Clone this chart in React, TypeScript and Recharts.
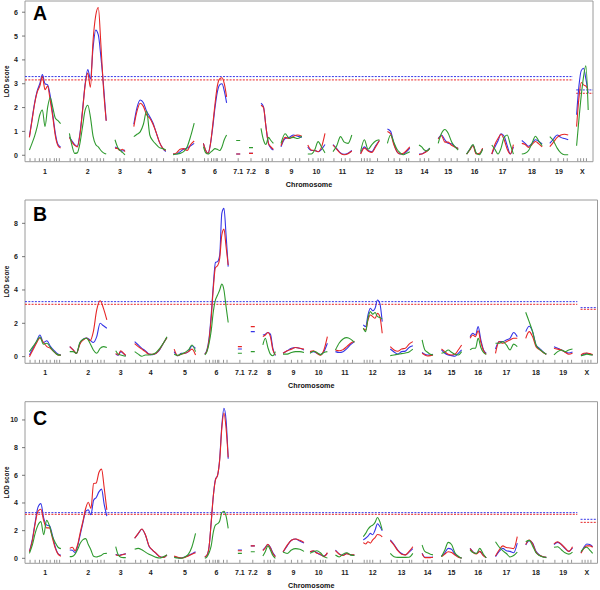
import React from 'react';
import { ComposedChart, Line, Scatter, XAxis, YAxis, ReferenceArea } from 'recharts';

// chromosome layout on the genome axis (map units)
const chrNames = ['1', '2', '3', '4', '5', '6', '7.1', '7.2', '8', '9', '10', '11', '12', '13', '14', '15', '16', '17', '18', '19', 'X'];
const chrStart = [11, 111, 225, 272, 370, 446, 528, 560, 590, 640, 707, 770, 839, 906, 985, 1033, 1104, 1167, 1242, 1312, 1379];
const chrEnd = [89, 203, 250, 352, 423, 504, 538, 570, 621, 692, 750, 817, 886, 962, 1012, 1083, 1144, 1221, 1293, 1358, 1408];

// marker positions (fraction along each chromosome)
const markerFrac: number[][] = [
  [0.02, 0.18, 0.32, 0.43, 0.55, 0.66, 0.8, 0.87, 0.96],
  [0.02, 0.15, 0.29, 0.43, 0.49, 0.61, 0.75, 0.84, 0.93],
  [0.1, 0.5, 0.9],
  [0.03, 0.19, 0.4, 0.56, 0.72, 0.93],
  [0.05, 0.2, 0.45, 0.65, 0.75, 0.95],
  [0.05, 0.2, 0.35, 0.45, 0.55, 0.6, 0.8, 0.95],
  [0.5],
  [0.5],
  [0.1, 0.4, 0.6, 0.9],
  [0.1, 0.4, 0.7, 0.9],
  [0.05, 0.3, 0.6, 0.75, 0.9],
  [0.05, 0.45, 0.65, 0.9],
  [0.05, 0.2, 0.35, 0.5, 0.9],
  [0.05, 0.3, 0.55, 0.85, 0.95],
  [0.1, 0.5, 0.9],
  [0.05, 0.35, 0.65, 0.95],
  [0.1, 0.55, 0.75, 0.95],
  [0.05, 0.3, 0.5, 0.7, 0.95],
  [0.05, 0.35, 0.6, 0.85],
  [0.05, 0.45, 0.75, 0.95],
  [0.1, 0.35, 0.6, 0.85],
];

// panel A LOD profiles
const aBlue: number[][] = [
  [0.78, 1.5, 2.2, 2.7, 3.0, 3.38, 3.0, 2.95, 2.5, 1.7, 0.9, 0.45, 0.35],
  [0.78, 0.6, 0.45, 0.38, 0.9, 1.9, 3.0, 3.6, 3.2, 4.5, 5.25, 5.05, 4.1, 2.9, 1.45],
  [0.35, 0.3, 0.22, 0.18, 0.22],
  [1.3, 2.0, 2.32, 2.2, 1.85, 1.62, 1.35, 0.95, 0.55, 0.3, 0.15],
  [0.05, 0.05, 0.15, 0.25, 0.3, 0.4, 0.5],
  [0.5, 0.2, 0.08, 0.45, 1.15, 2.0, 2.65, 2.95, 3.0, 2.7, 2.2],
  [0.05, 0.05],
  [0.08, 0.08],
  [2.18, 2.04, 1.2, 0.5, 0.3, 0.22],
  [0.35, 0.7, 0.75, 0.85, 0.8, 0.75],
  [0.35, 0.2, 0.2, 0.15, 0.25, 0.45],
  [0.45, 0.28, 0.1, 0.04, 0.08, 0.2],
  [0.08, 0.35, 0.2, 0.15, 0.4, 0.62],
  [1.1, 1.0, 0.5, 0.15, 0.05, 0.05, 0.15, 0.3],
  [0.05, 0.05, 0.12, 0.2, 0.3],
  [0.7, 0.85, 0.65, 0.5, 0.48, 0.36, 0.28],
  [0.05, 0.25, 0.42, 0.08, 0.05, 0.28],
  [0.05, 0.35, 0.6, 0.9, 0.8, 0.4, 0.05, 0.35],
  [0.62, 0.5, 0.38, 0.5, 0.65, 0.58, 0.48],
  [0.5, 0.68, 0.85, 0.75, 0.7, 0.65],
  [1.7, 2.9, 3.55, 3.65, 3.2, 2.6],
];
const aRed: number[][] = [
  [0.75, 1.45, 2.15, 2.65, 2.9, 3.3, 2.75, 2.9, 2.3, 1.6, 0.8, 0.4, 0.3],
  [0.75, 0.55, 0.42, 0.35, 0.85, 1.85, 2.95, 3.45, 2.85, 4.8, 5.85, 6.2, 4.6, 2.75, 1.45],
  [0.3, 0.28, 0.2, 0.25, 0.15],
  [1.2, 1.85, 2.18, 2.05, 1.7, 1.55, 1.3, 0.95, 0.55, 0.3, 0.2],
  [0.05, 0.1, 0.25, 0.28, 0.2, 0.45, 0.6],
  [0.5, 0.2, 0.08, 0.45, 1.25, 2.15, 2.9, 3.2, 3.25, 3.0, 2.45],
  [0.05, 0.05],
  [0.08, 0.08],
  [2.1, 2.0, 1.2, 0.5, 0.35, 0.25],
  [0.4, 0.75, 0.7, 0.8, 0.85, 0.8],
  [0.43, 0.22, 0.2, 0.15, 0.35, 0.92],
  [0.43, 0.25, 0.08, 0.02, 0.06, 0.18],
  [0.05, 0.3, 0.18, 0.12, 0.35, 0.62],
  [1.0, 0.9, 0.45, 0.15, 0.05, 0.08, 0.2, 0.35],
  [0.02, 0.05, 0.1, 0.18, 0.28],
  [0.68, 0.82, 0.55, 0.55, 0.42, 0.35, 0.28],
  [0.05, 0.22, 0.4, 0.05, 0.08, 0.3],
  [0.05, 0.45, 0.7, 0.88, 0.65, 0.25, 0.05, 0.45],
  [0.5, 0.45, 0.33, 0.45, 0.58, 0.48, 0.35],
  [0.36, 0.55, 0.75, 0.85, 0.88, 0.85],
  [1.2, 2.4, 3.05, 2.95, 2.9, 2.75],
];
const aGreen: number[][] = [
  [0.22, 0.5, 0.8, 1.2, 1.7, 1.9, 1.2, 2.0, 2.42, 2.0, 1.55, 1.45, 1.33],
  [0.92, 0.4, 0.08, 0.1, 0.5, 1.2, 1.9, 2.1, 1.6, 0.8, 0.45, 0.35, 0.2, 0.1, 0.05],
  [0.65, 0.35, 0.2, 0.12, 0.02],
  [0.78, 0.88, 0.98, 1.3, 1.85, 0.85, 0.6, 0.45, 0.32, 0.28, 0.22],
  [0.02, 0.05, 0.08, 0.15, 0.35, 0.8, 1.35],
  [0.36, 0.1, 0.05, 0.12, 0.2, 0.28, 0.25, 0.2, 0.35, 0.65, 0.85],
  [0.62, 0.62],
  [0.32, 0.32],
  [1.13, 0.64, 0.45, 0.75, 0.62, 0.5],
  [0.5, 0.9, 0.72, 0.75, 0.7, 0.8],
  [0.05, 0.05, 0.22, 0.57, 0.35, 0.1],
  [0.15, 0.4, 0.78, 0.55, 0.5, 0.85],
  [0.15, 0.65, 0.25, 0.45, 0.6, 0.65],
  [0.5, 0.85, 0.55, 0.25, 0.1, 0.02, 0.08, 0.15],
  [0.43, 0.35, 0.22, 0.18, 0.3],
  [0.5, 0.92, 1.08, 0.92, 0.57, 0.36, 0.22],
  [0.05, 0.25, 0.45, 0.1, 0.02, 0.25],
  [0.43, 0.25, 0.05, 0.3, 0.75, 0.85, 0.45, 0.05],
  [0.05, 0.08, 0.2, 0.5, 0.8, 0.6, 0.4],
  [0.78, 0.6, 0.3, 0.1, 0.02, 0.02],
  [0.4, 1.5, 2.5, 3.3, 3.75, 1.9],
];

// panel B LOD profiles
const bBlue: number[][] = [
  [0.1, 0.5, 0.9, 1.3, 0.85, 0.95, 0.62, 0.38, 0.18, 0.1],
  [0.6, 0.4, 0.2, 0.8, 1.05, 1.12, 1.0, 0.85, 1.2, 2.0, 1.85, 1.7],
  [0.15, 0.08, 0.3, 0.2, 0.05],
  [0.9, 0.7, 0.5, 0.35, 0.15, 0.12, 0.2, 0.42, 0.8, 1.15],
  [0.3, 0.05, 0.2, 0.2, 0.3, 0.65, 0.5],
  [0.15, 0.4, 1.1, 2.5, 4.3, 5.65, 5.7, 6.1, 8.6, 8.9, 7.3, 5.4],
  [0.46, 0.46],
  [1.5, 1.5],
  [1.3, 1.35, 1.45, 1.35, 0.5, 0.06],
  [0.2, 0.35, 0.5, 0.55, 0.5, 0.4],
  [0.26, 0.3, 0.2, 0.12, 0.3, 0.8],
  [0.3, 0.25, 0.3, 0.48, 0.72, 0.9],
  [1.9, 1.8, 2.5, 2.9, 2.75, 2.9, 3.4, 3.2, 2.1],
  [0.46, 0.28, 0.15, 0.3, 0.33, 0.55, 0.65],
  [0.26, 0.14, 0.1, 0.1, 0.14],
  [0.4, 0.2, 0.1, 0.06, 0.02, 0.2, 0.4],
  [1.2, 1.4, 1.3, 1.8, 1.0, 0.4, 0.2],
  [0.46, 0.9, 0.9, 1.0, 1.1, 1.45, 1.2],
  [1.5, 1.82, 1.5, 0.7, 0.5, 0.3, 0.14],
  [0.6, 0.5, 0.4, 0.28, 0.22, 0.28],
  [0.05, 0.15, 0.2, 0.15, 0.1],
];
const bRed: number[][] = [
  [0.0, 0.4, 0.8, 1.12, 0.85, 0.6, 0.5, 0.3, 0.12, 0.08],
  [0.6, 0.4, 0.2, 0.75, 1.0, 1.12, 0.95, 1.5, 2.8, 3.35, 2.9, 2.2],
  [0.2, 0.1, 0.35, 0.22, 0.08],
  [0.78, 0.6, 0.45, 0.3, 0.14, 0.14, 0.2, 0.45, 0.8, 1.14],
  [0.45, 0.05, 0.15, 0.2, 0.3, 0.45, 0.1],
  [0.15, 0.35, 1.0, 2.3, 4.1, 5.35, 5.45, 5.9, 7.3, 7.65, 6.6, 5.5],
  [0.6, 0.6],
  [1.8, 1.8],
  [1.2, 1.3, 1.45, 1.2, 0.4, 0.1],
  [0.2, 0.35, 0.45, 0.55, 0.5, 0.45],
  [0.3, 0.35, 0.2, 0.08, 0.4, 1.2],
  [0.4, 0.35, 0.42, 0.6, 0.8, 0.92],
  [1.7, 1.6, 2.2, 2.5, 2.4, 2.3, 2.6, 2.4, 1.4],
  [0.6, 0.4, 0.32, 0.46, 0.5, 0.75, 0.9],
  [0.2, 0.1, 0.04, 0.06, 0.1],
  [0.46, 0.3, 0.14, 0.1, 0.14, 0.4, 0.7],
  [1.1, 1.3, 1.2, 1.55, 0.85, 0.35, 0.14],
  [0.2, 0.9, 0.8, 0.9, 1.0, 1.1, 1.1],
  [1.1, 1.5, 1.2, 0.6, 0.42, 0.26, 0.14],
  [0.5, 0.45, 0.4, 0.26, 0.14, 0.2],
  [0.1, 0.2, 0.22, 0.18, 0.12],
];
const bGreen: number[][] = [
  [0.3, 0.6, 0.9, 1.18, 0.75, 0.8, 0.55, 0.3, 0.12, 0.08],
  [0.3, 0.3, 0.2, 0.85, 1.05, 1.1, 0.8, 0.4, 0.2, 0.5, 0.6, 0.55],
  [0.35, 0.15, 0.1, 0.05, 0.02],
  [0.3, 0.15, 0.02, 0.1, 0.1, 0.14, 0.26, 0.5, 0.8, 1.2],
  [0.15, 0.08, 0.15, 0.25, 0.4, 0.7, 0.3],
  [0.1, 0.3, 0.8, 1.55, 2.7, 3.4, 3.7, 4.0, 4.35, 4.0, 3.0, 2.05],
  [0.2, 0.2],
  [0.3, 0.3],
  [0.7, 1.1, 0.55, 0.15, 0.05, 0.3],
  [0.15, 0.15, 0.25, 0.3, 0.3, 0.25],
  [0.2, 0.32, 0.25, 0.12, 0.25, 0.3],
  [0.4, 0.82, 1.06, 1.14, 1.05, 0.85],
  [1.7, 1.5, 2.3, 2.7, 2.55, 2.65, 2.4, 2.35, 2.25],
  [0.06, 0.1, 0.14, 0.18, 0.22, 0.28, 0.45],
  [1.0, 0.4, 0.26, 0.14, 0.1],
  [0.2, 0.26, 0.4, 0.26, 0.14, 0.1, 0.3],
  [0.4, 0.5, 0.5, 1.1, 0.55, 0.25, 0.14],
  [0.8, 0.8, 0.9, 0.7, 0.4, 0.75, 0.6],
  [2.66, 2.1, 1.5, 0.7, 0.45, 0.28, 0.14],
  [0.1, 0.3, 0.4, 0.3, 0.4, 0.46],
  [0.05, 0.1, 0.15, 0.12, 0.1],
];

// panel C LOD profiles
const cBlue: number[][] = [
  [0.48, 1.35, 2.6, 3.7, 3.95, 2.9, 2.4, 2.35, 1.7, 0.85, 0.35, 0.22],
  [0.6, 0.58, 0.42, 0.9, 1.75, 2.6, 3.4, 3.5, 3.15, 4.2, 4.4, 4.8, 5.0, 3.9, 3.05],
  [0.3, 0.22, 0.25, 0.3, 0.32],
  [1.45, 1.78, 2.1, 1.68, 0.88, 0.58, 0.35, 0.12, 0.07, 0.24],
  [0.12, 0.05, 0.02, 0.1, 0.2, 0.34, 0.48],
  [0.1, 0.22, 0.84, 2.6, 4.5, 5.7, 6.0, 7.2, 9.6, 10.85, 10.0, 7.2],
  [0.6, 0.6],
  [0.9, 0.9],
  [0.6, 0.8, 1.0, 0.8, 0.4, 0.15],
  [0.45, 0.9, 1.3, 1.4, 1.25, 1.1],
  [0.48, 0.52, 0.4, 0.25, 0.17, 0.36],
  [0.6, 0.32, 0.22, 0.36, 0.25, 0.24],
  [1.33, 1.45, 1.6, 1.8, 1.7, 2.05, 2.5, 2.3, 2.0],
  [1.33, 1.0, 0.6, 0.35, 0.25, 0.45, 0.7],
  [0.36, 0.07, 0.07, 0.07, 0.1],
  [0.17, 0.4, 0.72, 0.65, 0.3, 0.12, 0.02],
  [0.72, 0.45, 0.35, 0.5, 0.25, 0.05],
  [0.12, 0.5, 0.72, 0.55, 0.5, 0.4, 1.1],
  [0.96, 1.28, 1.1, 0.5, 0.25, 0.12, 0.07],
  [1.0, 1.15, 1.0, 0.7, 0.5, 0.75],
  [0.4, 0.8, 1.04, 1.0, 0.84],
];
const cRed: number[][] = [
  [0.48, 1.25, 2.5, 3.4, 3.55, 2.7, 2.2, 2.2, 1.5, 0.75, 0.3, 0.15],
  [0.72, 0.8, 0.55, 1.0, 1.9, 2.7, 3.6, 4.05, 3.6, 5.4, 5.45, 6.2, 6.45, 5.1, 3.5],
  [0.25, 0.2, 0.22, 0.28, 0.33],
  [1.45, 1.8, 2.12, 1.7, 0.9, 0.6, 0.36, 0.12, 0.07, 0.24],
  [0.17, 0.07, 0.02, 0.07, 0.17, 0.3, 0.41],
  [0.1, 0.22, 0.84, 2.6, 4.5, 5.65, 6.0, 7.1, 9.4, 10.5, 9.4, 7.3],
  [0.55, 0.55],
  [0.9, 0.9],
  [0.55, 0.75, 1.02, 0.75, 0.35, 0.1],
  [0.45, 0.95, 1.3, 1.4, 1.3, 1.15],
  [0.48, 0.55, 0.36, 0.3, 0.12, 0.41],
  [0.55, 0.3, 0.2, 0.34, 0.26, 0.25],
  [1.13, 1.04, 1.2, 1.1, 1.33, 1.5, 1.72, 1.69, 1.55],
  [1.28, 0.95, 0.55, 0.3, 0.25, 0.5, 0.84],
  [0.34, 0.05, 0.05, 0.05, 0.08],
  [0.12, 0.3, 0.48, 0.42, 0.24, 0.08, 0.02],
  [0.7, 0.42, 0.32, 0.5, 0.22, 0.05],
  [0.17, 0.6, 0.9, 0.78, 0.75, 0.7, 1.57],
  [1.0, 1.32, 1.05, 0.45, 0.22, 0.12, 0.07],
  [1.04, 1.2, 1.0, 0.75, 0.5, 0.84],
  [0.36, 0.72, 0.9, 0.9, 0.8],
];
const cGreen: number[][] = [
  [0.36, 0.95, 1.8, 2.4, 2.65, 1.7, 2.75, 2.35, 1.6, 1.15, 0.8, 0.7],
  [0.12, 0.14, 0.3, 0.65, 1.1, 1.35, 1.42, 1.0, 0.6, 0.15, 0.1, 0.15, 0.22, 0.35, 0.36],
  [0.85, 0.25, 0.08, 0.05, 0.05],
  [0.65, 0.72, 0.62, 0.45, 0.3, 0.18, 0.07, 0.02, 0.12, 0.24],
  [0.07, 0.02, 0.0, 0.1, 0.3, 0.84, 1.8],
  [0.0, 0.1, 0.4, 0.9, 1.9, 2.4, 2.5, 2.7, 3.3, 3.4, 3.05, 2.17],
  [0.36, 0.36],
  [0.48, 0.48],
  [0.17, 0.5, 0.9, 0.6, 0.2, 0.0],
  [0.45, 0.35, 0.6, 0.7, 0.65, 0.5],
  [0.36, 0.48, 0.55, 0.4, 0.12, 0.02],
  [0.24, 0.1, 0.3, 0.4, 0.25, 0.2],
  [1.57, 1.8, 2.1, 2.3, 2.4, 2.6, 2.95, 2.65, 2.05],
  [0.36, 0.12, 0.07, 0.07, 0.07, 0.08, 0.36],
  [0.96, 0.5, 0.4, 0.3, 0.25],
  [0.12, 0.6, 1.15, 1.0, 0.4, 0.15, 0.0],
  [0.6, 0.4, 0.36, 0.72, 0.35, 0.02],
  [1.2, 0.82, 0.55, 0.35, 0.1, 0.2, 0.45],
  [1.2, 1.3, 0.9, 0.4, 0.2, 0.1, 0.05],
  [0.8, 0.84, 0.62, 0.4, 0.3, 0.45],
  [0.48, 0.72, 0.8, 0.6, 0.36],
];

// significance thresholds: [autosomes, X]
const aThreshBlue = [3.3, 2.74];
const aThreshRed = [3.16, 2.6];
const bThreshBlue = [3.3, 2.94];
const bThreshRed = [3.14, 2.84];
const cThreshBlue = [3.3, 2.82];
const cThreshRed = [3.18, 2.6];

const aTicks = [0, 1, 2, 3, 4, 5, 6];
const bTicks = [0, 2, 4, 6, 8];
const cTicks = [0, 2, 4, 6, 8, 10];

const BLUE = '#3535e6';
const RED = '#e62626';
const GREEN = '#2f9a2f';
const FONT = '"Liberation Sans", Arial, Helvetica, sans-serif';
const X_MAX = 1420;

type Pt = { x: number; y: number | null };

// spread each chromosome's LOD values over its span, break between chromosomes
const toPoints = (vals: number[][]): Pt[] => {
  const pts: Pt[] = [];
  vals.forEach((v, i) => {
    const s = chrStart[i];
    const e = chrEnd[i];
    v.forEach((y, k) => pts.push({ x: s + ((e - s) * k) / (v.length - 1), y }));
    pts.push({ x: e + 1, y: null });
  });
  return pts;
};

const thresholdPoints = (t: number[]): Pt[] => [
  { x: 0, y: t[0] },
  { x: 1370, y: t[0] },
  { x: 1374, y: null },
  { x: 1378, y: t[1] },
  { x: X_MAX, y: t[1] },
];

const centers = chrStart.map((s, i) => (s + chrEnd[i]) / 2);

interface PanelProps {
  letter: string;
  top: number;
  height: number;
  plotTop: number;
  plotBottom: number;
  plotRight: number;
  yDomain: [number, number];
  yTicks: number[];
  blue: number[][];
  red: number[][];
  green: number[][];
  thBlue: number[];
  thRed: number[];
  letterBaseline: number;
}

const Panel: React.FC<PanelProps> = ({
  letter, top, height, plotTop, plotBottom, plotRight, yDomain, yTicks,
  blue, red, green, thBlue, thRed, letterBaseline,
}) => {
  const axisH = top + height - plotBottom;
  const rug: Pt[] = [];
  markerFrac.forEach((fs, i) => fs.forEach((f) => rug.push({ x: chrStart[i] + f * (chrEnd[i] - chrStart[i]), y: yDomain[0] })));

  return (
    <div style={{ position: 'absolute', left: 0, top, width: 600, height, fontFamily: FONT }}>
      <ComposedChart
        width={600}
        height={height}
        margin={{ top: plotTop - top, right: 600 - plotRight, bottom: 0, left: 0 }}
      >
        <XAxis
          type="number"
          dataKey="x"
          domain={[0, X_MAX]}
          ticks={centers}
          interval={0}
          allowDataOverflow
          axisLine={false}
          tickLine={false}
          tickSize={0}
          tickMargin={0}
          height={axisH}
          tick={(p: any) => (
            <text x={p.x} y={p.y + 12} textAnchor="middle" fontSize={7} fontWeight="bold" fill="#222">
              {chrNames[p.index]}
            </text>
          )}
          label={{
            value: 'Chromosome',
            position: 'insideBottom',
            offset: axisH - 24.8,
            style: { fontSize: 7.2, fontWeight: 'bold', fill: '#111' },
          }}
        />
        <YAxis
          type="number"
          dataKey="y"
          domain={yDomain}
          ticks={yTicks}
          interval={0}
          allowDataOverflow
          width={25}
          axisLine={false}
          tickSize={3}
          tickMargin={4}
          tickLine={{ stroke: '#555', strokeWidth: 0.8 }}
          tick={{ fontSize: 7, fontWeight: 'bold', fill: '#222' }}
          label={{
            value: 'LOD score',
            angle: -90,
            position: 'insideLeft',
            offset: 7,
            style: { textAnchor: 'middle', fontSize: 6.3, fontWeight: 'bold', fill: '#111' },
          }}
        />
        <ReferenceArea
          x1={0}
          x2={X_MAX}
          y1={yDomain[0]}
          y2={yDomain[1]}
          fill="none"
          stroke="#9a9a9a"
          strokeWidth={1}
          ifOverflow="visible"
        />
        <Scatter
          data={rug}
          isAnimationActive={false}
          shape={(p: any) => (
            <line x1={p.cx} x2={p.cx} y1={p.cy - 0.5} y2={p.cy - 3.5} stroke="#666" strokeWidth={0.7} />
          )}
        />
        <Line data={thresholdPoints(thBlue)} dataKey="y" type="linear" stroke={BLUE} strokeWidth={1}
          strokeDasharray="2 1.3" dot={false} activeDot={false} isAnimationActive={false} />
        <Line data={thresholdPoints(thRed)} dataKey="y" type="linear" stroke={RED} strokeWidth={1}
          strokeDasharray="2 1.3" dot={false} activeDot={false} isAnimationActive={false} />
        <Line data={toPoints(blue)} dataKey="y" type="monotone" stroke={BLUE} strokeWidth={1.1}
          dot={false} activeDot={false} isAnimationActive={false} />
        <Line data={toPoints(red)} dataKey="y" type="monotone" stroke={RED} strokeWidth={1.1}
          dot={false} activeDot={false} isAnimationActive={false} />
        <Line data={toPoints(green)} dataKey="y" type="monotone" stroke={GREEN} strokeWidth={1.1}
          dot={false} activeDot={false} isAnimationActive={false} />
      </ComposedChart>
      <div
        style={{
          position: 'absolute',
          left: 33,
          top: letterBaseline - top - 16.5,
          fontSize: 19.5,
          fontWeight: 'bold',
          lineHeight: 1,
          color: '#000',
        }}
      >
        {letter}
      </div>
    </div>
  );
};

export default function App() {
  return (
    <div style={{ position: 'absolute', left: 0, top: 0, width: 600, height: 590, background: '#fff' }}>
      <Panel letter="A" top={0} height={195} plotTop={1} plotBottom={161.7} plotRight={593}
        yDomain={[-0.27, 6.47]} yTicks={aTicks} blue={aBlue} red={aRed} green={aGreen}
        thBlue={aThreshBlue} thRed={aThreshRed} letterBaseline={20.7} />
      <Panel letter="B" top={195} height={198} plotTop={200} plotBottom={363.3} plotRight={597.5}
        yDomain={[-0.4, 9.4]} yTicks={bTicks} blue={bBlue} red={bRed} green={bGreen}
        thBlue={bThreshBlue} thRed={bThreshRed} letterBaseline={221.7} />
      <Panel letter="C" top={393} height={197} plotTop={401.7} plotBottom={563.3} plotRight={597.5}
        yDomain={[-0.36, 11.32]} yTicks={cTicks} blue={cBlue} red={cRed} green={cGreen}
        thBlue={cThreshBlue} thRed={cThreshRed} letterBaseline={425} />
    </div>
  );
}
